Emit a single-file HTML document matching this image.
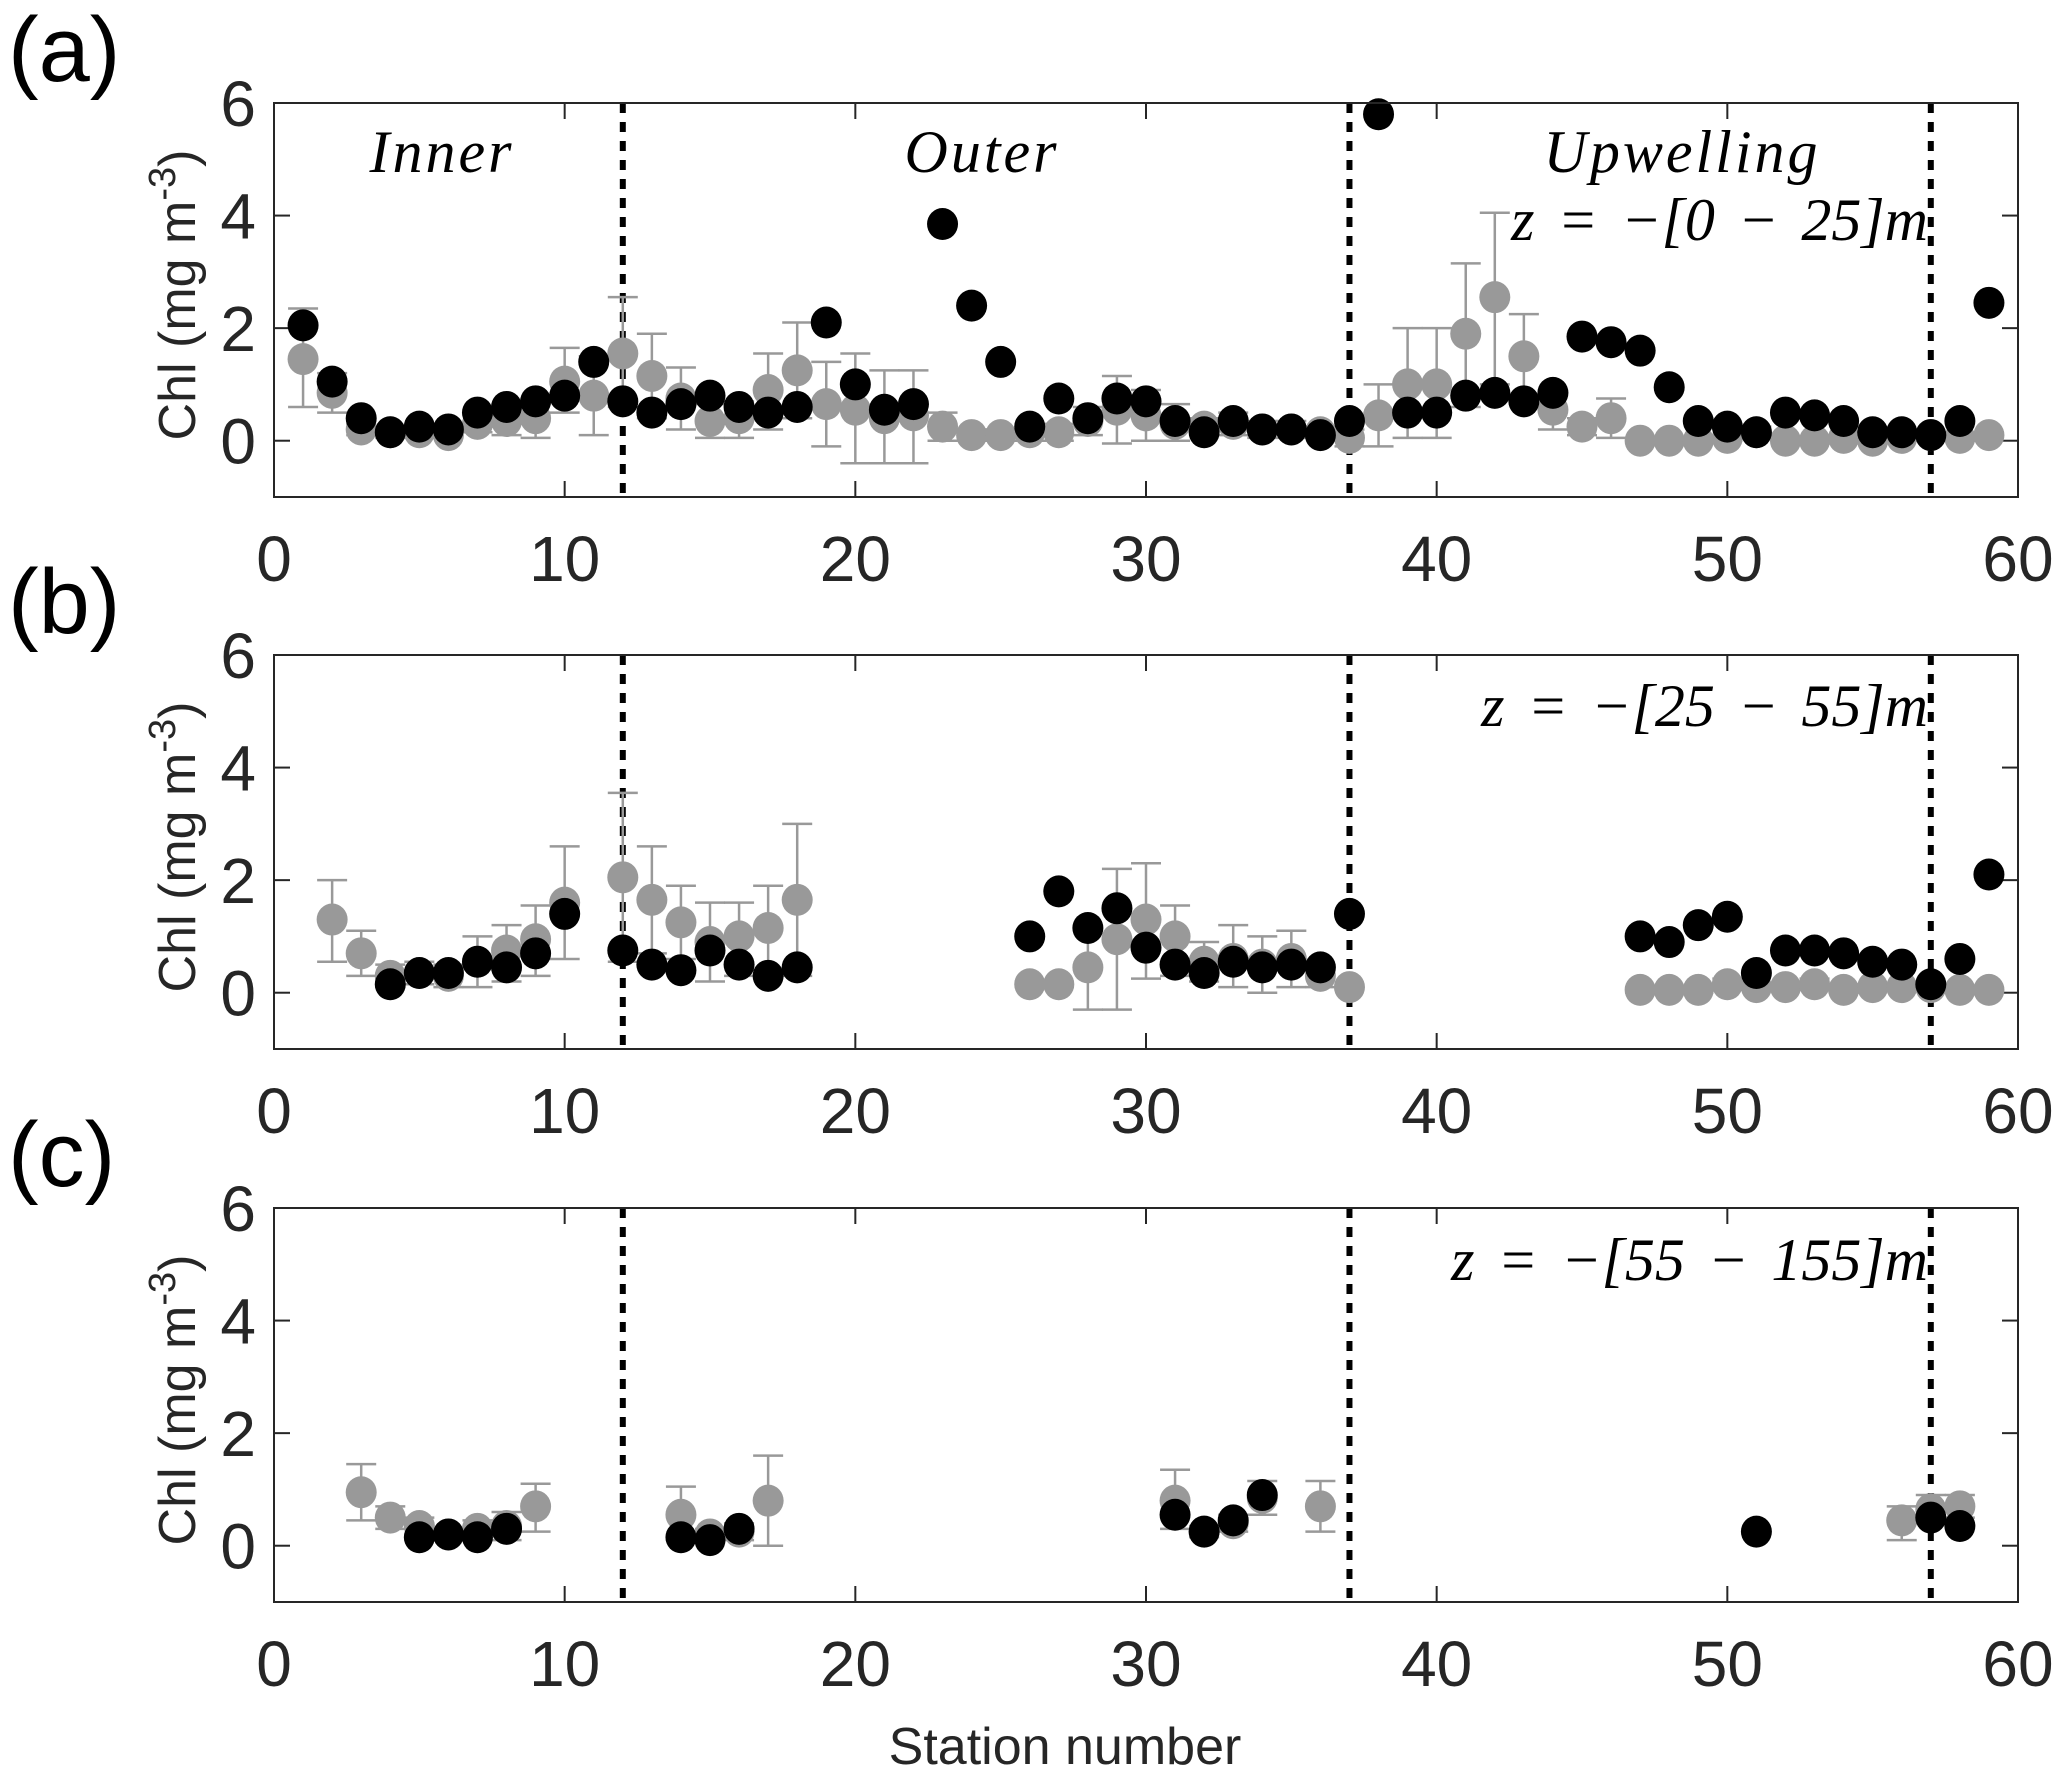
<!DOCTYPE html>
<html><head><meta charset="utf-8"><style>
html,body{margin:0;padding:0;background:#fff;}
svg text{font-family:"Liberation Sans",sans-serif;}
.tick{font-size:64px;fill:#262626;}
.lab{font-size:52px;fill:#262626;}
.it{font-family:"Liberation Serif",serif;font-style:italic;font-size:60px;fill:#000;}
</style></head><body>
<svg id="fig" width="2067" height="1784" viewBox="0 0 2067 1784" xmlns="http://www.w3.org/2000/svg"></svg>
<script>
// Panel (a) z = 0-25 m
const grayA_x=[1,2,3,4,5,6,7,8,9,10,11,12,13,14,15,16,17,18,19,20,21,22,23,24,25,26,27,28,29,30,31,32,33,34,35,36,37,38,39,40,41,42,43,44,45,46,47,48,49,50,51,52,53,54,55,56,57,58,59];
const grayA_y=[1.45,0.85,0.2,0.15,0.15,0.1,0.3,0.35,0.4,1.05,0.8,1.55,1.15,0.75,0.35,0.4,0.9,1.25,0.65,0.55,0.4,0.45,0.25,0.1,0.1,0.15,0.15,0.35,0.55,0.45,0.3,0.25,0.3,0.2,0.2,0.15,0.05,0.45,1.0,1.0,1.9,2.55,1.5,0.55,0.25,0.4,0,0,0,0.05,0.15,0,0,0.05,0,0.05,0.1,0.05,0.1];
const grayA_lo=[0.6,0.5,0.1,0.05,0.05,0.05,0.15,0.1,0.05,0.5,0.1,0.6,0.4,0.2,0.05,0.05,0.2,0.4,-0.1,-0.4,-0.4,-0.4,0,0,0,0,0,0.1,-0.05,0,0,0.1,0.1,0.05,0.05,0.05,-0.1,-0.1,0.05,0.05,0.6,1.0,0.75,0.2,0.1,0.05,0,0,0,0,0.05,0,0,0,0,0,0.05,0,0.05];
const grayA_hi=[2.35,1.2,0.3,0.25,0.25,0.2,0.45,0.6,0.75,1.65,1.5,2.55,1.9,1.3,0.65,0.7,1.55,2.1,1.4,1.55,1.25,1.25,0.5,0.2,0.2,0.3,0.3,0.6,1.15,0.9,0.65,0.4,0.5,0.35,0.35,0.25,0.2,1.0,2.0,2.0,3.15,4.05,2.25,0.9,0.4,0.75,0.05,0.05,0.05,0.1,0.25,0.05,0.05,0.1,0.05,0.1,0.15,0.1,0.15];
const blackA_x=[1,2,3,4,5,6,7,8,9,10,11,12,13,14,15,16,17,18,19,20,21,22,23,24,25,26,27,28,29,30,31,32,33,34,35,36,37,38,39,40,41,42,43,44,45,46,47,48,49,50,51,52,53,54,55,56,57,58,59];
const blackA_y=[2.05,1.05,0.4,0.15,0.25,0.2,0.5,0.6,0.7,0.8,1.4,0.7,0.5,0.65,0.8,0.6,0.5,0.6,2.1,1.0,0.55,0.65,3.85,2.4,1.4,0.25,0.75,0.4,0.75,0.7,0.35,0.15,0.35,0.2,0.2,0.1,0.35,5.8,0.5,0.5,0.8,0.85,0.7,0.85,1.85,1.75,1.6,0.95,0.35,0.25,0.15,0.5,0.45,0.35,0.15,0.15,0.1,0.35,2.45];
// Panel (b) z = 25-55 m
const grayB_x=[2,3,4,5,6,7,8,9,10,12,13,14,15,16,17,18,26,27,28,29,30,31,32,33,34,35,36,37,47,48,49,50,51,52,53,54,55,56,57,58,59];
const grayB_y=[1.3,0.7,0.3,0.35,0.3,0.55,0.75,0.95,1.6,2.05,1.65,1.25,0.9,1.0,1.15,1.65,0.15,0.15,0.45,0.95,1.3,1.0,0.55,0.6,0.5,0.6,0.3,0.1,0.05,0.05,0.05,0.15,0.1,0.1,0.15,0.05,0.1,0.1,0.1,0.05,0.05];
const grayB_lo=[0.55,0.3,0.1,0.15,0.1,0.1,0.2,0.3,0.6,0.55,0.7,0.6,0.2,0.3,0.4,0.3,0.1,0.1,-0.3,-0.3,0.25,0.3,0.2,0.1,0.0,0.1,0.1,0.05,0,0,0,0.05,0.05,0.05,0.05,0,0.05,0.05,0.05,0,0];
const grayB_hi=[2.0,1.1,0.5,0.55,0.5,1.0,1.2,1.55,2.6,3.55,2.6,1.9,1.6,1.6,1.9,3.0,0.2,0.2,1.15,2.2,2.3,1.55,0.9,1.2,1.0,1.1,0.5,0.15,0.1,0.1,0.1,0.25,0.15,0.15,0.25,0.1,0.15,0.15,0.15,0.1,0.1];
const blackB_x=[4,5,6,7,8,9,10,12,13,14,15,16,17,18,26,27,28,29,30,31,32,33,34,35,36,37,47,48,49,50,51,52,53,54,55,56,57,58,59];
const blackB_y=[0.15,0.35,0.35,0.55,0.45,0.7,1.4,0.75,0.5,0.4,0.75,0.5,0.3,0.45,1.0,1.8,1.15,1.5,0.8,0.5,0.35,0.55,0.45,0.5,0.45,1.4,1.0,0.9,1.2,1.35,0.35,0.75,0.75,0.7,0.55,0.5,0.15,0.6,2.1];
// Panel (c) z = 55-155 m
const grayC_x=[3,4,5,6,7,8,9,14,15,16,17,31,32,33,34,36,56,57,58];
const grayC_y=[0.95,0.5,0.35,0.2,0.3,0.35,0.7,0.55,0.2,0.25,0.8,0.8,0.25,0.4,0.85,0.7,0.45,0.65,0.7];
const grayC_lo=[0.45,0.3,0.2,0.1,0.15,0.1,0.25,0.1,0.1,0.1,0,0.3,0.15,0.25,0.55,0.25,0.1,0.4,0.5];
const grayC_hi=[1.45,0.7,0.5,0.3,0.45,0.6,1.1,1.05,0.3,0.4,1.6,1.35,0.35,0.55,1.15,1.15,0.7,0.9,0.9];
const blackC_x=[5,6,7,8,14,15,16,31,32,33,34,51,57,58];
const blackC_y=[0.15,0.2,0.15,0.3,0.15,0.1,0.3,0.55,0.25,0.45,0.9,0.25,0.5,0.35];
const xTicks=[0,10,20,30,40,50,60];
const yTicks=[0,2,4,6];
const regionBounds=[12,37,57];

const NS="http://www.w3.org/2000/svg";
const svg=document.getElementById('fig');
function mk(tag,attrs,parent){const e=document.createElementNS(NS,tag);for(const k in attrs)e.setAttribute(k,attrs[k]);(parent||svg).appendChild(e);return e;}
const L=274,R=2018;
const panels=[
 {top:103,bot:497,id:'a',gx:grayA_x,gy:grayA_y,glo:grayA_lo,ghi:grayA_hi,bx:blackA_x,by:blackA_y,z:'z = −[0 − 25]m',zy:240},
 {top:655,bot:1049,id:'b',gx:grayB_x,gy:grayB_y,glo:grayB_lo,ghi:grayB_hi,bx:blackB_x,by:blackB_y,z:'z = −[25 − 55]m',zy:726},
 {top:1208,bot:1602,id:'c',gx:grayC_x,gy:grayC_y,glo:grayC_lo,ghi:grayC_hi,bx:blackC_x,by:blackC_y,z:'z = −[55 − 155]m',zy:1280}
];
function xs(v){return L+(v-0)/60*(R-L);}
panels.forEach(p=>{
 const ys=v=>p.bot-(v+1)/7*(p.bot-p.top);
 const g=mk('g',{});
 
 
 const lab=mk('text',{x:8,y:p.top-22,'font-size':92,fill:'#000'},g);
 lab.textContent='('+p.id+')';
 
 
 xTicks.forEach(t=>{
  mk('line',{x1:xs(t),x2:xs(t),y1:p.bot,y2:p.bot-16,stroke:'#262626','stroke-width':2},g);
  mk('line',{x1:xs(t),x2:xs(t),y1:p.top,y2:p.top+16,stroke:'#262626','stroke-width':2},g);
  const tx=mk('text',{x:xs(t),y:p.bot+84,'text-anchor':'middle',class:'tick'},g);
  tx.textContent=t;
  
  
 });
 yTicks.forEach(t=>{
  mk('line',{x1:L,x2:L+16,y1:ys(t),y2:ys(t),stroke:'#262626','stroke-width':2},g);
  mk('line',{x1:R,x2:R-16,y1:ys(t),y2:ys(t),stroke:'#262626','stroke-width':2},g);
  const tx=mk('text',{x:L-18,y:ys(t)+23,'text-anchor':'end',class:'tick'},g);
  tx.textContent=t;
  
  
 });
 const yl=mk('text',{transform:`translate(195,${(p.top+p.bot)/2-5}) rotate(-90)`,'text-anchor':'middle',class:'lab'},g);
 yl.innerHTML='Chl (mg m<tspan dy="-20" font-size="38">-3</tspan><tspan dy="20">)</tspan>';
 
 
 regionBounds.forEach(b=>{
  const ln=mk('line',{x1:xs(b),x2:xs(b),y1:p.top,y2:p.bot,stroke:'#000','stroke-width':6,'stroke-dasharray':'10 9'},g);
  
  
 });
 p.gx.forEach((x,i)=>{
  const cx=xs(x),w=15;
  const e=mk('g',{stroke:'#999','stroke-width':2.5,fill:'none'},g);
  
  
  mk('line',{x1:cx,x2:cx,y1:ys(p.glo[i]),y2:ys(p.ghi[i])},e);
  mk('line',{x1:cx-w,x2:cx+w,y1:ys(p.glo[i]),y2:ys(p.glo[i])},e);
  mk('line',{x1:cx-w,x2:cx+w,y1:ys(p.ghi[i]),y2:ys(p.ghi[i])},e);
 });
 p.gx.forEach((x,i)=>{
  const c=mk('ellipse',{cx:xs(x),cy:ys(p.gy[i]),rx:15.5,ry:16,fill:'#999'},g);
  
  
 });
 p.bx.forEach((x,i)=>{
  const c=mk('ellipse',{cx:xs(x),cy:ys(p.by[i]),rx:15.5,ry:16,fill:'#000'},g);
  
  
 });
 const fr=mk('rect',{x:L,y:p.top,width:R-L,height:p.bot-p.top,fill:'none',stroke:'#262626','stroke-width':2},g);
 
 
 const z=mk('text',{x:1928,y:p.zy,'text-anchor':'end',class:'it','word-spacing':'8'},g);
 z.textContent=p.z;
 
 
});
[['Inner',442],['Outer',982],['Upwelling',1682]].forEach(([t,x])=>{
 const e=mk('text',{x:x,y:172,'text-anchor':'middle',class:'it','letter-spacing':'3'});
 e.textContent=t;
 
 
});
const xt=mk('text',{x:1065,y:1764,'text-anchor':'middle',class:'lab'});
xt.setAttribute('font-size','60');
xt.textContent='Station number';


</script>
</body></html>
